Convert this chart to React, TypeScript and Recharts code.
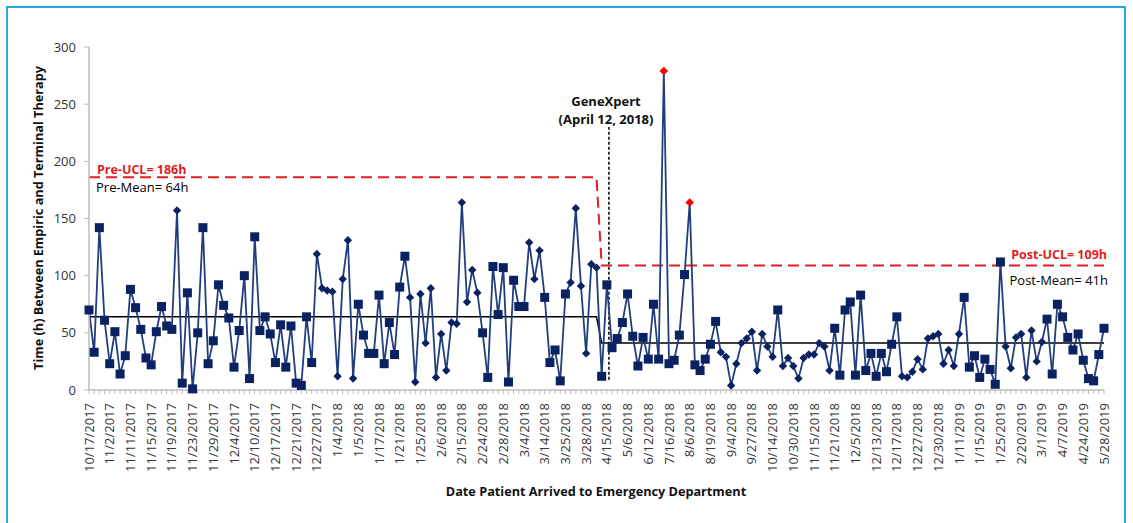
import { LineChart, Line, XAxis, YAxis, ReferenceLine, Customized } from 'recharts';

// hours between empiric and terminal therapy, one entry per patient, in arrival order
const hours = [
  70, 33, 142, 61, 23, 51, 14, 30, 88, 72,
  53, 28, 22, 51, 73, 56, 53, 157, 6, 85,
  1, 50, 142, 23, 43, 92, 74, 63, 20, 52,
  100, 10, 134, 52, 64, 49, 24, 57, 20, 56,
  6, 4, 64, 24, 119, 89, 87, 86, 12, 97,
  131, 10, 75, 48, 32, 32, 83, 23, 59, 31,
  90, 117, 81, 7, 84, 41, 89, 11, 49, 17,
  59, 58, 164, 77, 105, 85, 50, 11, 108, 66,
  107, 7, 96, 73, 73, 129, 97, 122, 81, 24,
  35, 8, 84, 94, 159, 91, 32, 110, 107, 12,
  92, 37, 45, 59, 84, 47, 21, 46, 27, 75,
  27, 279, 23, 26, 48, 101, 164, 22, 17, 27,
  40, 60, 33, 29, 4, 23, 41, 45, 51, 17,
  49, 38, 29, 70, 21, 28, 21, 10, 28, 31,
  31, 41, 38, 17, 54, 13, 70, 77, 13, 83,
  17, 32, 12, 32, 16, 40, 64, 12, 11, 16,
  27, 18, 45, 47, 49, 23, 35, 21, 49, 81,
  20, 30, 11, 27, 18, 5, 112, 38, 19, 46,
  49, 11, 52, 25, 42, 62, 14, 75, 64, 46,
  35, 49, 26, 10, 8, 31, 54,
];

// marker shape runs: S = square, D = diamond, R = red diamond (above UCL)
const markerRuns: [string, number][] = [
  ['S', 17], ['D', 1], ['S', 26], ['D', 8], ['S', 10], ['D', 14], ['S', 9],
  ['D', 3], ['S', 5], ['D', 6], ['S', 12], ['R', 1], ['S', 4], ['R', 1],
  ['S', 5], ['D', 11], ['S', 1], ['D', 10], ['S', 13], ['D', 12], ['S', 8],
  ['D', 8], ['S', 12],
];

// every 4th patient gets a date label
const tickLabels = [
  '10/17/2017', '11/2/2017', '11/11/2017', '11/15/2017', '11/19/2017', '11/23/2017',
  '11/29/2017', '12/4/2017', '12/10/2017', '12/17/2017', '12/21/2017', '12/27/2017',
  '1/4/2018', '1/5/2018', '1/17/2018', '1/21/2018', '1/25/2018', '2/6/2018',
  '2/15/2018', '2/24/2018', '2/28/2018', '3/4/2018', '3/14/2018', '3/25/2018',
  '3/28/2018', '4/15/2018', '5/6/2018', '6/12/2018', '7/16/2018', '8/6/2018',
  '8/19/2018', '9/4/2018', '9/27/2018', '10/14/2018', '10/30/2018', '11/15/2018',
  '11/21/2018', '12/5/2018', '12/13/2018', '12/17/2018', '12/27/2018', '12/30/2018',
  '1/11/2019', '1/15/2019', '1/25/2019', '2/20/2019', '3/1/2019', '4/7/2019',
  '4/24/2019', '5/28/2019',
];

const yTicks = [0, 50, 100, 150, 200, 250, 300];

const PRE_UCL = 186;
const POST_UCL = 109;
const PRE_MEAN = 64;
const POST_MEAN = 41;
const LAST_PRE = 98; // last patient before the limits switch
const GENEXPERT_AT = 100.4;

const NAVY = '#0B2262';
const LINE = '#223E7C';
const FONT = "'Open Sans', sans-serif";

const markers = markerRuns.flatMap(([t, n]) => Array(n).fill(t));
const data = hours.map((h, i) => ({
  i,
  hours: h,
  marker: markers[i],
  ucl: i <= LAST_PRE ? PRE_UCL : POST_UCL,
  mean: i <= LAST_PRE ? PRE_MEAN : POST_MEAN,
}));
const allTicks = data.map(d => d.i);

const PointMarker = (props: any) => {
  const { cx, cy, payload, index } = props;
  if (payload.marker === 'S') {
    return <rect key={`m${index}`} x={cx - 4.5} y={cy - 4.5} width={9} height={9} fill={NAVY} />;
  }
  const r = payload.marker === 'R' ? 4.3 : 4.2;
  const fill = payload.marker === 'R' ? '#FF0000' : NAVY;
  return (
    <path
      key={`m${index}`}
      d={`M${cx},${cy - r}L${cx + r},${cy}L${cx},${cy + r}L${cx - r},${cy}Z`}
      fill={fill}
    />
  );
};

const DateTick = ({ x, y, payload }: any) => {
  const i = payload.value;
  if (i % 4 !== 0) return <g />;
  return (
    <text
      x={x}
      y={y}
      transform={`rotate(-90 ${x} ${y})`}
      textAnchor="end"
      dy="0.35em"
      fontSize={13}
      fontFamily={FONT}
      fill="#333"
    >
      {tickLabels[i / 4]}
    </text>
  );
};

const Annotations = () => (
  <g fontFamily={FONT}>
    <text x={38} y={218} transform="rotate(-90 38 218)" textAnchor="middle" dominantBaseline="central"
      fontSize={12.7} fontWeight="bold" fill="#111">
      Time (h) Between Empiric and Terminal Therapy
    </text>
    <text x={596} y={491} textAnchor="middle" dominantBaseline="central" fontSize={12.7} fontWeight="bold" fill="#111">
      Date Patient Arrived to Emergency Department
    </text>
    <text x={606} y={101} textAnchor="middle" dominantBaseline="central" fontSize={13} fontWeight="bold" fill="#111">
      GeneXpert
    </text>
    <text x={606} y={119} textAnchor="middle" dominantBaseline="central" fontSize={13} fontWeight="bold" fill="#111">
      (April 12, 2018)
    </text>
    <text x={97} y={169} dominantBaseline="central" fontSize={12.5} fontWeight="bold" fill="#E21B1B">
      Pre-UCL= 186h
    </text>
    <text x={96} y={187} dominantBaseline="central" fontSize={13} fill="#000">
      Pre-Mean= 64h
    </text>
    <text x={1107} y={254} textAnchor="end" dominantBaseline="central" fontSize={12.5} fontWeight="bold" fill="#E21B1B">
      Post-UCL= 109h
    </text>
    <text x={1108} y={280} textAnchor="end" dominantBaseline="central" fontSize={13} fill="#000">
      Post-Mean= 41h
    </text>
  </g>
);

export default function App() {
  return (
    <div style={{ position: 'absolute', left: 0, top: 0, width: 1133, height: 523, overflow: 'hidden', background: '#fff' }}>
      <div style={{ position: 'absolute', left: 6, top: 6, width: 1116, height: 560, border: '2px solid #2BA8E0' }} />
      <div style={{ position: 'absolute', left: 0, top: 0 }}>
        <LineChart width={1133} height={523} data={data} margin={{ top: 47, right: 29, bottom: 33, left: 0 }}>
          <XAxis
            dataKey="i"
            type="number"
            domain={[0, 196]}
            ticks={allTicks}
            interval={0}
            tick={<DateTick />}
            tickSize={4}
            tickMargin={9}
            tickLine={{ stroke: '#BDBDBD' }}
            axisLine={{ stroke: '#BDBDBD', strokeWidth: 1.5 }}
            height={100}
          />
          <YAxis
            domain={[0, 300]}
            ticks={yTicks}
            width={89}
            tickSize={5}
            tickMargin={8}
            tick={{ fontSize: 13, fontFamily: FONT, fill: '#333' }}
            tickLine={{ stroke: '#BDBDBD' }}
            axisLine={{ stroke: '#BDBDBD', strokeWidth: 1.5 }}
          />
          <ReferenceLine
            segment={[{ x: GENEXPERT_AT, y: 9 }, { x: GENEXPERT_AT, y: 230 }]}
            stroke="#000"
            strokeWidth={1.5}
            strokeDasharray="3 2"
          />
          <Line
            dataKey="ucl"
            type="linear"
            stroke="#E02020"
            strokeWidth={2}
            strokeDasharray="11 6"
            dot={false}
            activeDot={false}
            isAnimationActive={false}
          />
          <Line
            dataKey="mean"
            type="linear"
            stroke="#000"
            strokeWidth={1.5}
            dot={false}
            activeDot={false}
            isAnimationActive={false}
          />
          <Line
            dataKey="hours"
            type="linear"
            stroke={LINE}
            strokeWidth={1.8}
            dot={PointMarker}
            activeDot={false}
            isAnimationActive={false}
          />
          <Customized component={Annotations} />
        </LineChart>
      </div>
    </div>
  );
}
